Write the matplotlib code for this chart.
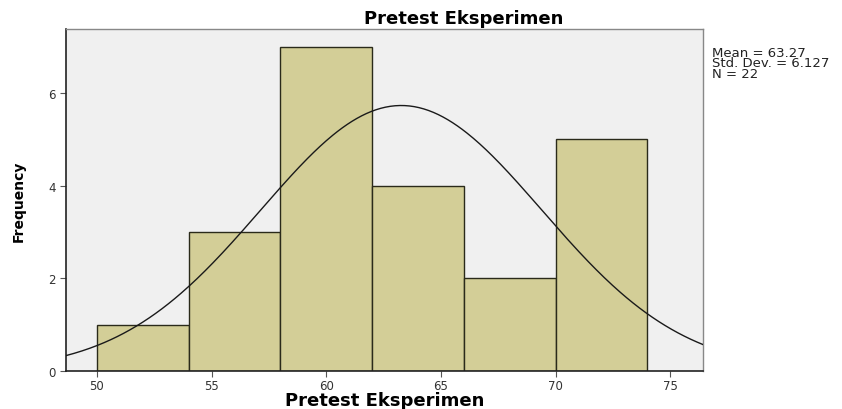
import numpy as np
import matplotlib
matplotlib.use("Agg")
import matplotlib.pyplot as plt

bin_edges = [50, 54, 58, 62, 66, 70, 74]
counts = [1, 3, 7, 4, 2, 5]
mean_val = 63.27
std_val = 6.127
n_val = 22
xticks = [50, 55, 60, 65, 70, 75]
yticks = [0, 2, 4, 6]

plt.rcParams['font.family'] = ['DejaVu Sans']

fig = plt.figure(figsize=(8.42, 4.10), dpi=100)
ax = fig.add_axes([0.0784, 0.0927, 0.757, 0.834])
ax.set_facecolor('#f0f0f0')

widths = np.diff(bin_edges)
ax.bar(bin_edges[:-1], counts, width=widths, align='edge',
       color='#d3ce97', edgecolor='#2a2a1a', linewidth=1.0, zorder=2)

xs = np.linspace(48.65, 76.45, 400)
bw = bin_edges[1] - bin_edges[0]
ys = n_val * bw / (std_val * np.sqrt(2 * np.pi)) * np.exp(-0.5 * ((xs - mean_val) / std_val) ** 2)
ax.plot(xs, ys, color='#1a1a1a', linewidth=1.0, zorder=3)

ax.set_xlim(48.65, 76.45)
ax.set_ylim(0, 7.38)
ax.set_xticks(xticks)
ax.set_yticks(yticks)
ax.tick_params(axis='both', direction='out', length=4, width=0.8, labelsize=8.5, color='#555555', labelcolor='#333333')
ax.tick_params(axis='x', pad=2)

for s in ['top', 'right']:
    ax.spines[s].set_color('#888888')
    ax.spines[s].set_linewidth(1.0)
for s in ['left', 'bottom']:
    ax.spines[s].set_color('#222222')
    ax.spines[s].set_linewidth(1.2)

fig.text(0.551, 0.954, 'Pretest Eksperimen', fontsize=13, fontweight='bold',
         ha='center', va='center')
ax.set_xlabel('Pretest Eksperimen', fontsize=13, fontweight='bold', va='center')
ax.xaxis.set_label_coords(0.5, -0.086)
ax.set_ylabel('Frequency', fontsize=10, fontweight='bold', labelpad=16)

fig.text(0.846, 0.885, f'Mean = {mean_val}\nStd. Dev. = {std_val}\nN = {n_val}',
         fontsize=9.5, va='top', ha='left', color='#222222', linespacing=0.72)

fig.savefig('out.png', dpi=100)
